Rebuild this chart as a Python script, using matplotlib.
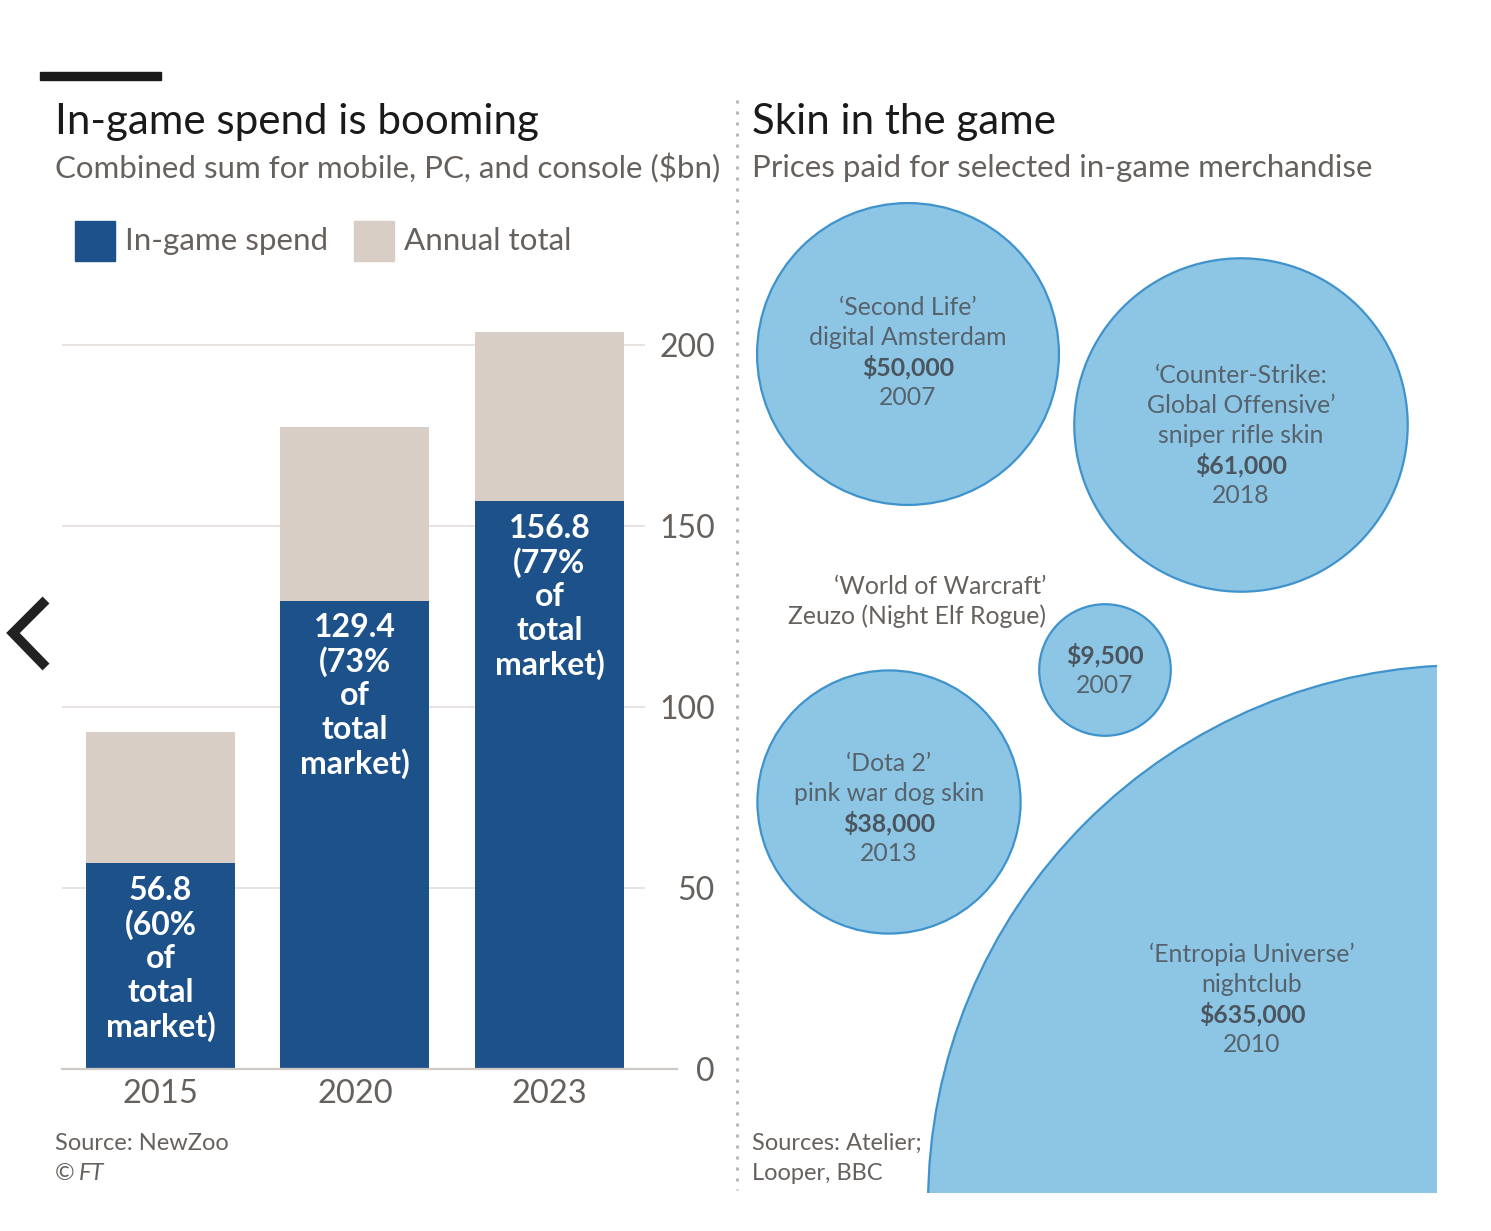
"""
FT-style chart: in-game spend bars plus bubble panel of in-game purchases.
"""

import matplotlib
matplotlib.use("Agg")
import matplotlib.pyplot as plt
from matplotlib.patches import Circle, Rectangle
from matplotlib.lines import Line2D
import numpy as np

plt.rcParams['font.family'] = ['Lato', 'DejaVu Sans']

# ---- dados: painel esquerdo ----
years = ['2015', '2020', '2023']
ingame = [56.8, 129.4, 156.8]
annual_total = [93.2, 177.3, 203.6]
share = [60, 73, 77]

# ---- dados: painel direito ----
item_names = [
    ['\u2018Second Life\u2019', 'digital Amsterdam'],
    ['\u2018Counter-Strike:', 'Global Offensive\u2019', 'sniper rifle skin'],
    ['\u2018World of Warcraft\u2019', 'Zeuzo (Night Elf Rogue)'],
    ['\u2018Dota 2\u2019', 'pink war dog skin'],
    ['\u2018Entropia Universe\u2019', 'nightclub'],
]
prices = [50000, 61000, 9500, 38000, 635000]
item_years = [2007, 2018, 2007, 2013, 2010]

# posições das bolhas (pixels da figura)
centers = [(908, 354), (1241, 425), (1105, 670), (889, 802), (1466, 1203)]
text_pos = [(908, 307), (1241, 375), (1105, 655), (889, 763), (1252, 954)]

W, H = 1491, 1231
BLUE = '#1d5189'
BEIGE = '#d9cec5'
BUB_FILL = '#8dc5e5'
BUB_EDGE = '#3f93cd'
GREY = '#66615d'
BUB_TXT = '#56636c'

fig = plt.figure(figsize=(W / 100, H / 100), dpi=100)
fig.patch.set_facecolor('white')

# camada de sobreposição em pixels
ov = fig.add_axes([0, 0, 1, 1], zorder=0)
ov.set_xlim(0, W)
ov.set_ylim(H, 0)
ov.axis('off')

# ---- gráfico de barras ----
px_per_unit = 3.62
y0 = 1069
ymax = 215
top_px = y0 - ymax * px_per_unit
ax = fig.add_axes([62 / W, 1 - y0 / H, (645 - 62) / W, (y0 - top_px) / H], zorder=2)
ax.patch.set_alpha(0)
x = np.arange(len(years))
ax.bar(x, annual_total, width=0.766, color=BEIGE, zorder=2)
ax.bar(x, ingame, width=0.766, color=BLUE, zorder=3)
ax.set_xlim(-0.506, 2.491)
ax.set_ylim(0, ymax)
for v in [50, 100, 150, 200]:
    ax.axhline(v, color='#e6e1dd', linewidth=1.3, zorder=1)
ax.axhline(0, xmax=(677 - 62) / 583, color='#cfcac6', linewidth=1.6, zorder=4, clip_on=False)
for s in ax.spines.values():
    s.set_visible(False)
ax.set_yticks([0, 50, 100, 150, 200])
ax.yaxis.tick_right()
ax.tick_params(axis='y', length=0, pad=(715 - 645) * 0.72, labelsize=23, labelcolor=GREY)
for lab in ax.get_yticklabels():
    lab.set_ha('right')
ax.set_xticks(x)
ax.set_xticklabels(years)
ax.tick_params(axis='x', length=0, pad=7, labelsize=23.5, labelcolor=GREY)

for i in range(len(years)):
    lines = [f'{ingame[i]}', f'({share[i]}%', 'of', 'total', 'market)']
    for j, line in enumerate(lines):
        ax.annotate(line, (x[i], ingame[i]), xytext=(0, -(27 + 34 * j) * 0.72),
                    textcoords='offset points', ha='center', va='center',
                    color='white', fontsize=23, fontweight='bold', zorder=5)

# ---- títulos e legenda (esquerda) ----
ov.add_patch(Rectangle((40, 72), 121, 8, color='#1a1a1a'))
ov.text(55, 122, 'In-game spend is booming', fontsize=30.3, color='#1a1a1a', va='center')
ov.text(55, 168, 'Combined sum for mobile, PC, and console ($bn)', fontsize=22.5,
        color=GREY, va='center')
ov.add_patch(Rectangle((75, 221), 40, 40, color=BLUE))
ov.text(125, 241, 'In-game spend', fontsize=22.6, color=GREY, va='center')
ov.add_patch(Rectangle((354, 221), 40, 40, color=BEIGE))
ov.text(404, 241, 'Annual total', fontsize=22.6, color=GREY, va='center')
ov.text(55, 1143, 'Source: NewZoo', fontsize=17, color=GREY, va='center')
ov.text(55, 1174, '\u00a9 ', fontsize=17, color=GREY, va='center')
ov.text(79, 1174, 'FT', fontsize=17, color=GREY, va='center', style='italic')

# divisor pontilhado
ov.add_line(Line2D([737, 737], [100, 1190], color='#b8b8b8', linewidth=2.2,
                   linestyle=(0, (1, 2.6))))

# seta de navegação
ov.add_line(Line2D([46, 13, 46], [600, 633, 667], color='#222222', linewidth=7,
                   solid_joinstyle='miter', solid_capstyle='butt'))

# ---- painel de bolhas ----
ov.text(752, 122, 'Skin in the game', fontsize=30.3, color='#1a1a1a', va='center')
ov.text(752, 168, 'Prices paid for selected in-game merchandise', fontsize=22.5,
        color=GREY, va='center')
ov.text(752, 1143, 'Sources: Atelier;', fontsize=17, color=GREY, va='center')
ov.text(752, 1174, 'Looper, BBC', fontsize=17, color=GREY, va='center')

bx0, bx1, by0, by1 = 745, 1437, 190, 1193
bx = fig.add_axes([bx0 / W, 1 - by1 / H, (bx1 - bx0) / W, (by1 - by0) / H], zorder=1)
bx.set_xlim(bx0, bx1)
bx.set_ylim(by1, by0)
bx.axis('off')

k = 0.675  # px por sqrt($): área proporcional ao preço
for i, p in enumerate(prices):
    r = k * np.sqrt(p)
    bx.add_patch(Circle(centers[i], r, facecolor=BUB_FILL, edgecolor=BUB_EDGE,
                        linewidth=1.6))

for i, p in enumerate(prices):
    tx, ty = text_pos[i]
    if i == 2:
        # rótulo fora da bolha, alinhado à direita
        for j, line in enumerate(item_names[i]):
            ov.text(1046, 586 + 30 * j, line, fontsize=17.8, color=GREY,
                    ha='right', va='center')
        lines = []
    else:
        lines = list(item_names[i])
    lines = [(l, 'normal') for l in lines] + [(f'${p:,}', 'bold'), (str(item_years[i]), 'normal')]
    for j, (line, w) in enumerate(lines):
        bx.text(tx, ty + 30 * j, line, fontsize=17.8, fontweight=w,
                color=BUB_TXT if w == 'normal' else '#4a555e',
                ha='center', va='center')

fig.savefig('out.png', dpi=100, facecolor='white')
